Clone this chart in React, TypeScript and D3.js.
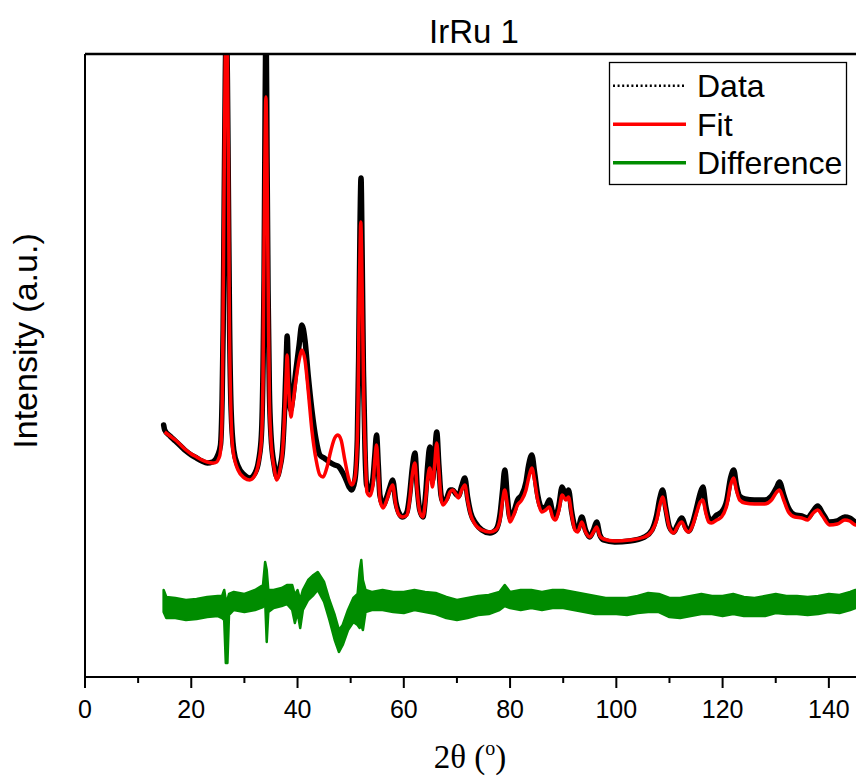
import React from "react";
import * as d3 from "d3";

// ---------- data (2θ in degrees, intensity in arbitrary counts) ----------
const FIT_X = [15,16,17,18,19,20,21,22,23,24,24.8,25.2,25.4,25.7,25.9,26.0,26.23,26.4,26.6,26.8,26.98,27.14,27.4,27.84,28.8,30,31,32,32.7,33.2,33.5,33.6,33.86,34.05,34.24,34.5,34.7,35.0,35.6,36.1,36.7,37.2,37.6,37.9,38.05,38.3,38.6,38.75,39.1,39.7,40.3,40.8,41.4,42.0,42.7,43.5,44.2,44.8,45.5,46.3,47.0,47.6,48.2,48.9,49.7,50.2,50.8,51.25,51.4,51.6,51.8,51.9,52.05,52.25,52.5,52.8,53.05,53.6,54.2,54.55,54.87,55.2,55.5,56.1,56.8,57.4,57.9,58.5,59.1,59.8,60.6,61.1,61.6,62.1,62.5,63.0,63.6,64.1,64.5,64.9,65.4,65.8,66.2,66.6,67.0,67.4,68.1,68.7,69.2,69.8,70.3,70.9,71.5,72.0,72.6,73.5,74.7,76.2,77.3,78.1,78.6,79.0,79.5,80.0,80.7,81.4,82.2,83.0,83.5,84.1,84.6,85.2,86.0,86.7,87.4,88.0,88.5,89.2,89.8,90.5,91.0,91.6,92.2,92.7,93.5,94.2,95.0,95.7,96.3,96.9,97.6,99.7,102.5,105.3,106.7,107.6,108.2,108.7,109.3,110.0,110.8,111.5,112.3,113.1,113.6,114.4,115.1,115.8,116.3,116.8,117.4,117.9,118.9,119.8,120.8,121.5,122.1,122.6,123.2,124.2,126.0,127.9,129.2,130.2,130.7,131.5,132.4,133.6,134.9,136.0,136.9,137.9,138.8,140.1,141.6,143.0,143.9,145.0,150];
const FIT_Y = [2450,2410,2370,2320,2270,2230,2200,2170,2150,2140,2150,2190,2220,2440,3100,3770,5270,6170,6570,6170,5270,3770,2770,2270,2070,1990,1970,2020,2150,2370,2970,3770,5170,5800,5170,3770,2770,2370,2090,1970,2070,2270,2670,3070,3220,2920,2670,2600,2720,2970,3170,3270,3170,2870,2470,2170,2020,2000,2090,2270,2390,2420,2370,2170,1970,1920,1990,2370,2770,3770,4370,4550,4270,3570,2670,2170,1850,1810,1920,2170,2320,2070,1770,1690,1770,1870,1920,1720,1620,1600,1620,1770,2020,2140,1870,1650,1600,1770,1990,2090,1900,2120,2340,2070,1790,1720,1770,1850,1870,1830,1790,1870,1920,1770,1620,1520,1470,1450,1470,1570,1770,1870,1720,1550,1620,1720,1770,1870,1990,2090,1970,1770,1650,1670,1700,1600,1570,1670,1820,1770,1800,1620,1470,1450,1550,1450,1400,1450,1500,1410,1380,1360,1370,1400,1460,1570,1720,1800,1670,1490,1440,1500,1550,1470,1450,1520,1640,1750,1770,1650,1550,1540,1570,1600,1720,1920,1990,1870,1770,1740,1730,1730,1770,1850,1870,1770,1650,1600,1590,1570,1630,1670,1610,1520,1530,1570,1560,1520,1500];

const DATA_X = [14.8,15,16,17,18,19,20,21,22,23,24,25,25.5,25.8,26.0,26.2,26.4,26.6,26.8,27.0,27.2,27.5,28,28.8,30,31,32,32.7,33.2,33.5,33.7,33.85,34.0,34.1,34.25,34.45,34.7,35.0,35.6,36.1,36.7,37.2,37.6,37.9,38.05,38.3,38.7,39.1,39.7,40.3,40.8,41.4,42.0,42.7,43.5,44.2,45,46,47,47.6,48.2,49,49.7,50.2,50.8,51.25,51.5,51.75,51.95,52.15,52.4,52.7,53.0,53.6,54.2,54.55,54.87,55.2,55.5,56.1,56.8,57.4,57.9,58.5,59.1,59.8,60.6,61.1,61.6,62.1,62.5,63.0,63.6,64.1,64.5,64.9,65.4,65.8,66.2,66.6,67.0,67.4,68.1,68.7,69.2,69.8,70.3,70.9,71.5,72.0,72.6,73.5,74.7,76.2,77.3,78.1,78.6,79.0,79.5,80.0,80.7,81.4,82.2,83.0,83.5,84.1,84.6,85.2,86.0,86.7,87.4,88.0,88.5,89.2,89.8,90.5,91.0,91.6,92.2,92.7,93.5,94.2,95.0,95.7,96.3,96.9,97.6,99.7,102.5,105.3,106.7,107.6,108.2,108.7,109.3,110.0,110.8,111.5,112.3,113.1,113.6,114.4,115.1,115.8,116.3,116.8,117.4,117.9,118.9,119.8,120.8,121.5,122.1,122.6,123.2,124.2,126.0,127.9,129.2,130.2,130.7,131.5,132.4,133.6,134.9,136.0,136.9,137.9,138.8,140.1,141.6,143.0,143.9,145.0,150];
const DATA_Y = [2520,2470,2410,2360,2310,2260,2220,2190,2160,2140,2150,2220,2320,2770,3470,4770,5970,6570,5970,4770,3570,2670,2270,2110,2020,1990,2040,2170,2420,3070,3970,5270,6370,6470,5270,3870,2870,2420,2120,2000,2100,2290,2720,3220,3410,3020,2670,2790,3070,3320,3520,3370,3020,2670,2370,2220,2190,2150,2120,2110,2070,1990,1900,1870,1970,2370,3170,4470,4990,4270,3070,2270,1920,1870,1990,2220,2420,2120,1820,1720,1800,1900,1970,1750,1640,1600,1650,1820,2090,2240,1920,1670,1600,1820,2120,2300,1970,2220,2450,2120,1820,1750,1790,1870,1870,1830,1810,1910,1990,1800,1640,1540,1470,1440,1470,1620,1870,2070,1790,1590,1650,1770,1820,1950,2120,2220,2050,1820,1690,1700,1770,1650,1600,1720,1900,1810,1870,1650,1500,1470,1600,1470,1400,1470,1550,1420,1370,1350,1360,1400,1470,1620,1790,1870,1690,1500,1450,1520,1590,1490,1460,1550,1690,1840,1900,1720,1590,1570,1620,1650,1770,1990,2070,1920,1810,1780,1770,1770,1810,1900,1950,1820,1690,1620,1610,1590,1650,1710,1640,1550,1560,1600,1590,1550,1520];

const DIFF_X = [14.8,15.3,17,19,21,23,25,25.8,26.2,26.5,26.8,27.1,28,30,32,33.5,33.9,34.2,34.5,35.5,37,38,39,39.5,40,40.5,41,42,43,43.8,45,46,47,47.8,48.5,49.5,50.5,51.3,51.7,52.0,52.3,52.8,54,56,58,60,62,64,66,68,70,72,74,76,78,79,80,82,84,86,88,90,92,94,96,98,100,102,104,106,108,110,112,114,116,118,120,122,124,126,128,130,132,134,136,138,140,142,144,145,150];
const DIFF_HI = [130,60,50,30,40,60,70,70,130,30,30,90,110,90,130,180,410,330,130,130,150,180,180,80,130,30,130,230,280,310,210,30,-120,-270,-220,-70,50,90,330,430,230,130,110,130,110,110,130,110,100,60,30,50,70,80,110,180,110,130,130,110,130,130,110,90,70,50,50,50,70,100,90,50,50,70,90,70,70,90,60,50,70,90,70,70,60,70,90,80,110,130,110];
const DIFF_LO = [-90,-150,-150,-170,-160,-140,-130,-150,-170,-600,-600,-120,-70,-90,-70,-40,30,-390,-90,-50,-30,-10,-70,-200,-90,-250,-70,30,80,130,10,-170,-370,-490,-420,-270,-190,-220,-250,-220,-270,-90,-70,-70,-90,-100,-70,-90,-110,-150,-170,-150,-120,-110,-70,-30,-50,-70,-50,-70,-50,-50,-70,-90,-110,-110,-110,-120,-100,-90,-90,-140,-150,-130,-110,-110,-130,-110,-130,-130,-130,-100,-110,-110,-120,-110,-90,-100,-70,-50,-70];
const DIFF_OFFSET = 740;

const MAJOR_TICKS = [0, 20, 40, 60, 80, 100, 120, 140];
const MINOR_TICKS = [10, 30, 50, 70, 90, 110, 130, 150];
const LEGEND = [
  { label: "Data", color: "#000000", dash: "2 2.6", width: 2.4 },
  { label: "Fit", color: "#ff0000", dash: undefined, width: 3.5 },
  { label: "Difference", color: "#008c00", dash: undefined, width: 3.5 },
];

const W = 856, H = 780;
const M = { left: 85, top: 54, bottom: 677, right: 882 };

export default function App() {
  const x = d3.scaleLinear().domain([0, 150]).range([M.left, M.right]);
  const y = d3.scaleLinear().domain([0, 6230]).range([M.bottom, M.top]);

  const fitPts: [number, number][] = FIT_X.map((v, i) => [v, FIT_Y[i]]);
  const dataPts: [number, number][] = DATA_X.map((v, i) => [v, DATA_Y[i]]);
  const diffPts = DIFF_X.map((v, i) => ({ x: v, hi: DIFF_HI[i], lo: DIFF_LO[i] }));

  const line = d3.line<[number, number]>()
    .x((d) => x(d[0]))
    .y((d) => y(d[1]))
    .curve(d3.curveMonotoneX);

  const diffArea = d3.area<{ x: number; hi: number; lo: number }>()
    .x((d) => x(d.x))
    .y0((d) => y(d.lo + DIFF_OFFSET))
    .y1((d) => y(d.hi + DIFF_OFFSET))
    .curve(d3.curveLinear);

  const font = "Liberation Sans, Arial, sans-serif";

  return (
    <svg width={W} height={H} style={{ position: "absolute", left: 0, top: 0, background: "#fff" }}
      xmlns="http://www.w3.org/2000/svg">
      <defs>
        <clipPath id="plotClip">
          <rect x={M.left} y={M.top} width={M.right - M.left} height={M.bottom - M.top} />
        </clipPath>
      </defs>
      <rect x={0} y={0} width={W} height={H} fill="#fff" />

      {/* title */}
      <text x={474} y={43} textAnchor="middle" fontFamily={font} fontSize={33} fill="#000">IrRu 1</text>

      <g clipPath="url(#plotClip)">
        <path d={line(dataPts) || ""} fill="none" stroke="#000" strokeWidth={5.5} strokeLinejoin="round" strokeLinecap="round" />
        <path d={line(fitPts) || ""} fill="none" stroke="#ff0000" strokeWidth={3.5} strokeLinejoin="round" />
        <path d={diffArea(diffPts) || ""} fill="#008c00" stroke="#008c00" strokeWidth={2.5} strokeLinejoin="round" />
      </g>

      {/* frame */}
      <line x1={M.left} y1={M.top} x2={M.right} y2={M.top} stroke="#000" strokeWidth={2.5} />
      <line x1={M.left} y1={M.top} x2={M.left} y2={M.bottom} stroke="#000" strokeWidth={2} />
      <line x1={M.left - 1} y1={M.bottom} x2={M.right} y2={M.bottom} stroke="#000" strokeWidth={2} />

      {/* ticks */}
      {MAJOR_TICKS.map((t) => (
        <g key={"M" + t}>
          <line x1={x(t)} x2={x(t)} y1={M.bottom} y2={M.bottom + 11} stroke="#000" strokeWidth={2} />
          <text x={x(t)} y={718} textAnchor="middle" fontFamily={font} fontSize={25} fill="#000">{t}</text>
        </g>
      ))}
      {MINOR_TICKS.map((t) => (
        <line key={"m" + t} x1={x(t)} x2={x(t)} y1={M.bottom} y2={M.bottom + 6} stroke="#000" strokeWidth={2} />
      ))}

      {/* axis labels */}
      <text x={470} y={768} textAnchor="middle" fontFamily="Liberation Serif, Times New Roman, serif" fontSize={33} fill="#000">
        2θ (<tspan fontSize={20} dy={-13}>o</tspan><tspan dy={13}>)</tspan>
      </text>
      <text transform="translate(37,341) rotate(-90)" textAnchor="middle" fontFamily={font} fontSize={34} fill="#000">
        Intensity (a.u.)
      </text>

      {/* legend */}
      <rect x={609.5} y={62.5} width={237} height={122} fill="#fff" stroke="#000" strokeWidth={1.3} />
      {LEGEND.map((d, i) => {
        const cy = 85.7 + i * 38.5;
        return (
          <g key={d.label}>
            <line x1={613} x2={686} y1={cy} y2={cy} stroke={d.color} strokeWidth={d.width} strokeDasharray={d.dash} />
            <text x={697} y={cy + 11.5} fontFamily={font} fontSize={32} fill="#000">{d.label}</text>
          </g>
        );
      })}
    </svg>
  );
}
